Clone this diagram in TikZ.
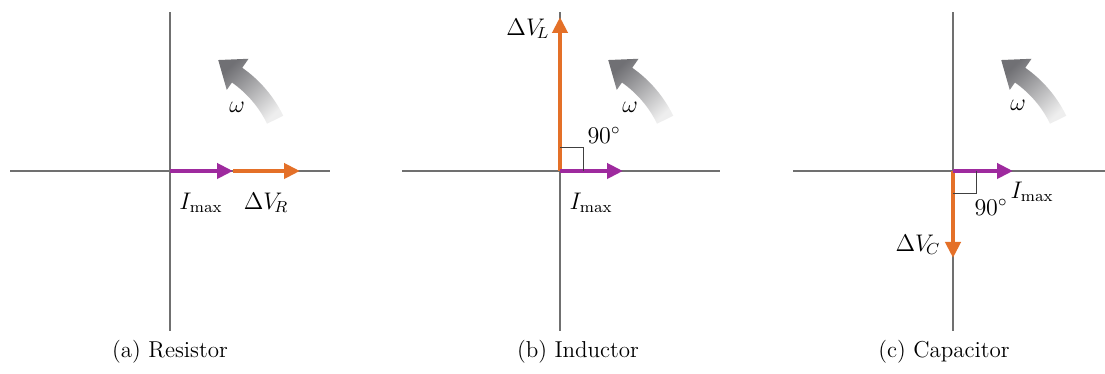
\documentclass[tikz,border=0pt]{standalone}
\usetikzlibrary{arrows.meta,shadings}
\definecolor{vecpurple}{RGB}{158,42,158}
\definecolor{vecorange}{RGB}{228,112,40}
\definecolor{axisgray}{RGB}{112,112,112}
\definecolor{omdark}{RGB}{112,112,116}
\definecolor{omlight}{RGB}{238,238,238}
\tikzset{
  axis/.style={draw=axisgray, line width=0.7pt},
  phasorI/.style={draw=vecpurple, line width=2.4pt, -{Triangle[length=8pt,width=7.5pt]}},
  phasorV/.style={draw=vecorange, line width=2.4pt, -{Triangle[length=8pt,width=7.5pt]}},
  rightmark/.style={draw=black!75, line width=0.5pt},
  lbl/.style={inner sep=0pt, font=\fontsize{12}{14}\selectfont},
  caption/.style={inner sep=0pt, font=\fontsize{11.5}{14}\selectfont},
  omega arrow/.pic={
    \shade[top color=omdark, bottom color=omlight, shading angle=43]
      (26:108) arc[start angle=26, end angle=55, radius=108]
      -- (55:99) -- (66.5:121) -- (55:137) -- (55:126)
      arc[start angle=55, end angle=26, radius=126] -- cycle;
  }
}
\begin{document}
\begin{tikzpicture}[x=0.5pt, y=0.5pt]
\useasboundingbox (0,0) rectangle (1105,374);
\fill[white] (0,0) rectangle (1105,374);

% ---------- (a) Resistor ----------
\coordinate (Oa) at (170,203);
\coordinate (aL) at (10,203);
\coordinate (aR) at (330,203);
\coordinate (aT) at (170,362);
\coordinate (aB) at (170,43);
\coordinate (aI) at (233,203);
\coordinate (aV) at (300,203);
\draw[axis] (aL) -- (aR);
\draw[axis] (aB) -- (aT);
\draw[phasorV] (aI) -- (aV);
\draw[phasorI] (Oa) -- (aI);
\pic at (Oa) {omega arrow};
\node[lbl] (aIlab) at (201,171) {$I_{\mathrm{max}}$};
\node[lbl] (aVlab) at (266,171) {$\Delta V_{\!R}$};
\node[lbl] (aw) at (237,267) {$\omega$};
\node[caption] (acap) at (170,22) {(a) Resistor};

% ---------- (b) Inductor ----------
\coordinate (Ob) at (560,203);
\coordinate (bL) at (402,203);
\coordinate (bR) at (720,203);
\coordinate (bT) at (560,362);
\coordinate (bB) at (560,43);
\coordinate (bI) at (623,203);
\coordinate (bV) at (560,357);
\draw[axis] (bL) -- (bR);
\draw[axis] (bB) -- (bT);
\draw[phasorV] (Ob) -- (bV);
\draw[phasorI] (Ob) -- (bI);
\draw[rightmark] (560,226) -- (583,226) -- (583,203);
\pic at (Ob) {omega arrow};
\node[lbl] (bVlab) at (528,345) {$\Delta V_{\!L}$};
\node[lbl] (b90) at (604,239) {$90^\circ$};
\node[lbl] (bw) at (630,267) {$\omega$};
\node[lbl] (bIlab) at (591,171) {$I_{\mathrm{max}}$};
\node[caption] (bcap) at (578,22) {(b) Inductor};

% ---------- (c) Capacitor ----------
\coordinate (Oc) at (953,203);
\coordinate (cL) at (793,203);
\coordinate (cR) at (1105,203);
\coordinate (cT) at (953,362);
\coordinate (cB) at (953,43);
\coordinate (cI) at (1013,203);
\coordinate (cV) at (953,116);
\draw[axis] (cL) -- (cR);
\draw[axis] (cB) -- (cT);
\draw[phasorV] (Oc) -- (cV);
\draw[phasorI] (Oc) -- (cI);
\draw[rightmark] (953,180) -- (976,180) -- (976,203);
\pic at (Oc) {omega arrow};
\node[lbl] (cVlab) at (918,129) {$\Delta V_{\!C}$};
\node[lbl] (c90) at (991,167) {$90^\circ$};
\node[lbl] (cIlab) at (1032,182) {$I_{\mathrm{max}}$};
\node[lbl] (cw) at (1018,269) {$\omega$};
\node[caption] (ccap) at (944,22) {(c) Capacitor};
\end{tikzpicture}
\end{document}
